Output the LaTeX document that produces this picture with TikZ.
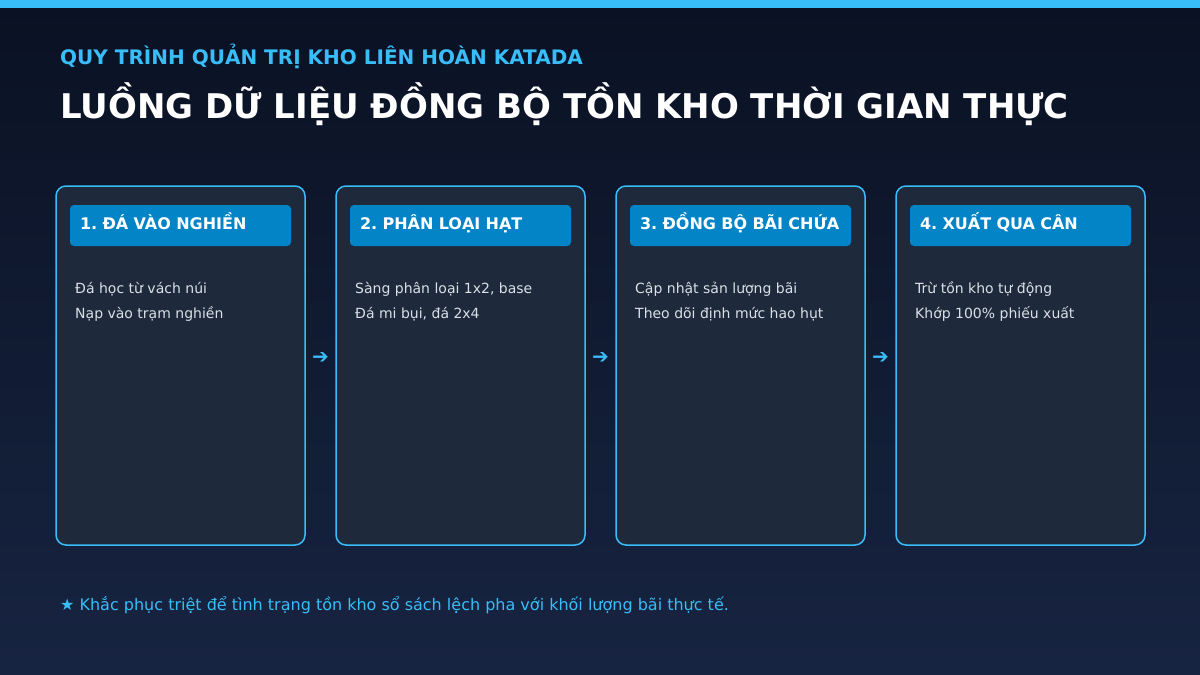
\documentclass[tikz,border=0pt]{standalone}
\usepackage{fontspec}
\setmainfont{DejaVu Sans}
\usetikzlibrary{calc}
\frenchspacing

\definecolor{skyline}{RGB}{56,189,248}
\definecolor{bandblue}{RGB}{2,132,199}
\definecolor{cardfill}{RGB}{30,41,59}
\definecolor{bodygray}{RGB}{218,224,232}
\definecolor{bgtop}{RGB}{10,17,35}
\definecolor{bgbottom}{RGB}{23,36,65}

\tikzset{
  card/.style={draw=skyline, line width=1.5pt, fill=cardfill, rounded corners=10pt,
    minimum width=249pt, minimum height=359pt, inner sep=0pt, outer sep=0pt},
  band/.style={fill=bandblue, rounded corners=4pt, text=white, anchor=north west,
    minimum height=41pt, text width=201pt, text height=10pt, text depth=3pt,
    inner xsep=10pt, inner ysep=0pt, outer sep=0pt, align=left,
    font=\fontsize{16}{18}\selectfont\bfseries},
  body/.style={text=bodygray, anchor=north west, align=left, inner sep=0pt,
    font=\fontsize{14}{25}\selectfont},
  flowarrow/.style={text=skyline, inner sep=0pt, font=\fontsize{20}{22}\selectfont}
}

\begin{document}
\begin{tikzpicture}[x=1pt, y=-1pt]
    % Background and top bar
    \useasboundingbox (0,0) rectangle (1200,675);
    \shade[top color=bgtop, bottom color=bgbottom] (0,0) rectangle (1200,675);
    \fill[skyline] (0,0) rectangle (1200,8);

    % Headings
    \node[anchor=base west, inner sep=0pt, text=skyline, font=\fontsize{20}{24}\selectfont\bfseries]
        (kicker) at (60,64) {QUY TRÌNH QUẢN TRỊ KHO LIÊN HOÀN KATADA};
    \node[anchor=base west, inner sep=0pt, text=white, font=\fontsize{34}{40}\selectfont\bfseries]
        (title) at (60,118) {LUỒNG DỮ LIỆU ĐỒNG BỘ TỒN KHO THỜI GIAN THỰC};

    % Cards
    \node[card] (c1) at (180.5,365.5) {};
    \node[card] (c2) at (460.5,365.5) {};
    \node[card] (c3) at (740.5,365.5) {};
    \node[card] (c4) at (1020.5,365.5) {};

    % Step headers
    \node[band] (h1) at ($(c1.north west)+(14,19)$) {1. ĐÁ VÀO NGHIỀN};
    \node[band] (h2) at ($(c2.north west)+(14,19)$) {2. PHÂN LOẠI HẠT};
    \node[band] (h3) at ($(c3.north west)+(14,19)$) {3. ĐỒNG BỘ BÃI CHỨA};
    \node[band] (h4) at ($(c4.north west)+(14,19)$) {4. XUẤT QUA CÂN};

    % Step details
    \node[body] (b1) at ($(c1.north west)+(19,89.5)$) {\strut Đá học từ vách núi\\Nạp vào trạm nghiền};
    \node[body] (b2) at ($(c2.north west)+(19,89.5)$) {\strut Sàng phân loại 1x2, base\\Đá mi bụi, đá 2x4};
    \node[body] (b3) at ($(c3.north west)+(19,89.5)$) {\strut Cập nhật sản lượng bãi\\Theo dõi định mức hao hụt};
    \node[body] (b4) at ($(c4.north west)+(19,89.5)$) {\strut Trừ tồn kho tự động\\Khớp 100\% phiếu xuất};

    % Arrows between steps
    \node[flowarrow, yshift=7.5pt] (a12) at ($(c1.east)!0.5!(c2.west)$) {➔};
    \node[flowarrow, yshift=7.5pt] (a23) at ($(c2.east)!0.5!(c3.west)$) {➔};
    \node[flowarrow, yshift=7.5pt] (a34) at ($(c3.east)!0.5!(c4.west)$) {➔};

    % Footnote
    \node[anchor=base west, inner sep=0pt, text=skyline, font=\fontsize{16}{20}\selectfont]
        (note) at (60,610) {★ Khắc phục triệt để tình trạng tồn kho sổ sách lệch pha với khối lượng bãi thực tế.};
\end{tikzpicture}
\end{document}
